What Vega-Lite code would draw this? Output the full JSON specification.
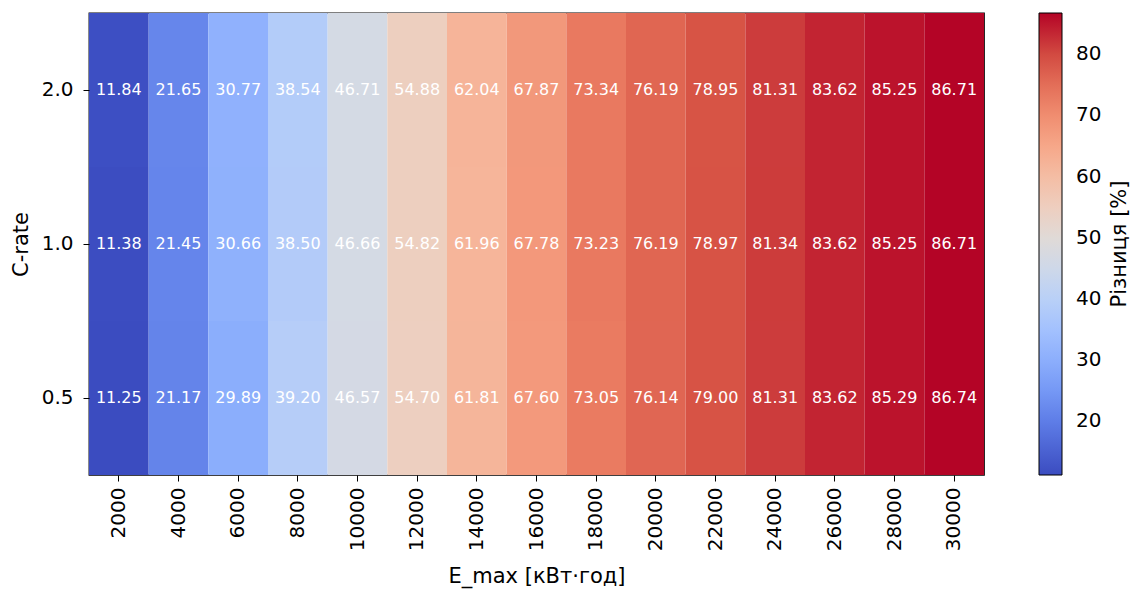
{
  "$schema": "https://vega.github.io/schema/vega-lite/v6.json",
  "autosize": {"type": "none"},
  "width": 895,
  "height": 462,
  "padding": {"left": 89, "top": 13, "right": 153, "bottom": 115},
  "background": "white",
  "config": {
    "font": "DejaVu Sans",
    "view": {"stroke": "black", "strokeWidth": 1.3},
    "axis": {
      "labelFont": "DejaVu Sans",
      "titleFont": "DejaVu Sans",
      "labelFontSize": 20,
      "titleFontSize": 21,
      "labelColor": "black",
      "titleColor": "black",
      "titleFontWeight": "normal",
      "tickColor": "black",
      "tickSize": 6,
      "domain": false,
      "grid": false
    },
    "legend": {
      "labelFont": "DejaVu Sans",
      "titleFont": "DejaVu Sans",
      "labelFontSize": 20,
      "titleFontSize": 21,
      "labelColor": "black",
      "titleColor": "black",
      "titleFontWeight": "normal"
    }
  },
  "data": {
    "values": [
      {"E": 2000, "C": "2.0", "v": 11.84}, {"E": 4000, "C": "2.0", "v": 21.65}, {"E": 6000, "C": "2.0", "v": 30.77},
      {"E": 8000, "C": "2.0", "v": 38.54}, {"E": 10000, "C": "2.0", "v": 46.71}, {"E": 12000, "C": "2.0", "v": 54.88},
      {"E": 14000, "C": "2.0", "v": 62.04}, {"E": 16000, "C": "2.0", "v": 67.87}, {"E": 18000, "C": "2.0", "v": 73.34},
      {"E": 20000, "C": "2.0", "v": 76.19}, {"E": 22000, "C": "2.0", "v": 78.95}, {"E": 24000, "C": "2.0", "v": 81.31},
      {"E": 26000, "C": "2.0", "v": 83.62}, {"E": 28000, "C": "2.0", "v": 85.25}, {"E": 30000, "C": "2.0", "v": 86.71},
      {"E": 2000, "C": "1.0", "v": 11.38}, {"E": 4000, "C": "1.0", "v": 21.45}, {"E": 6000, "C": "1.0", "v": 30.66},
      {"E": 8000, "C": "1.0", "v": 38.50}, {"E": 10000, "C": "1.0", "v": 46.66}, {"E": 12000, "C": "1.0", "v": 54.82},
      {"E": 14000, "C": "1.0", "v": 61.96}, {"E": 16000, "C": "1.0", "v": 67.78}, {"E": 18000, "C": "1.0", "v": 73.23},
      {"E": 20000, "C": "1.0", "v": 76.19}, {"E": 22000, "C": "1.0", "v": 78.97}, {"E": 24000, "C": "1.0", "v": 81.34},
      {"E": 26000, "C": "1.0", "v": 83.62}, {"E": 28000, "C": "1.0", "v": 85.25}, {"E": 30000, "C": "1.0", "v": 86.71},
      {"E": 2000, "C": "0.5", "v": 11.25}, {"E": 4000, "C": "0.5", "v": 21.17}, {"E": 6000, "C": "0.5", "v": 29.89},
      {"E": 8000, "C": "0.5", "v": 39.20}, {"E": 10000, "C": "0.5", "v": 46.57}, {"E": 12000, "C": "0.5", "v": 54.70},
      {"E": 14000, "C": "0.5", "v": 61.81}, {"E": 16000, "C": "0.5", "v": 67.60}, {"E": 18000, "C": "0.5", "v": 73.05},
      {"E": 20000, "C": "0.5", "v": 76.14}, {"E": 22000, "C": "0.5", "v": 79.00}, {"E": 24000, "C": "0.5", "v": 81.31},
      {"E": 26000, "C": "0.5", "v": 83.62}, {"E": 28000, "C": "0.5", "v": 85.29}, {"E": 30000, "C": "0.5", "v": 86.74}
    ]
  },
  "encoding": {
    "x": {
      "field": "E",
      "type": "ordinal",
      "scale": {"paddingInner": 0, "paddingOuter": 0},
      "axis": {"title": "E_max [кВт·год]", "labelAngle": 270, "labelPadding": 6, "titlePadding": 15}
    },
    "y": {
      "field": "C",
      "type": "ordinal",
      "sort": ["2.0", "1.0", "0.5"],
      "scale": {"paddingInner": 0, "paddingOuter": 0},
      "axis": {"title": "C-rate", "labelAngle": 0, "labelPadding": 10, "titlePadding": 10}
    }
  },
  "layer": [
    {
      "mark": {"type": "rect"},
      "encoding": {
        "color": {
          "field": "v",
          "type": "quantitative",
          "scale": {
            "domain": [11.25, 18.799, 26.348, 33.897, 41.446, 48.995, 56.544, 64.093, 71.642, 79.191, 86.74],
            "range": ["#3b4cc0", "#5977e3", "#7b9ff9", "#9ebeff", "#c0d4f5", "#dddcdc", "#f2cbb7", "#f7ac8e", "#ee8468", "#d65244", "#b40426"],
            "interpolate": "rgb"
          },
          "legend": {
            "title": "Різниця [%]",
            "type": "gradient",
            "direction": "vertical",
            "orient": "none",
            "legendX": 950,
            "legendY": 0,
            "gradientLength": 462,
            "gradientThickness": 23,
            "gradientStrokeColor": "black",
            "gradientStrokeWidth": 1,
            "values": [20, 30, 40, 50, 60, 70, 80],
            "labelOffset": 14,
            "titleOrient": "right",
            "titleAnchor": "middle",
            "titlePadding": 8,
            "encode": {
              "title": {
                "update": {
                  "angle": {"value": 270},
                  "baseline": {"value": "top"}
                }
              }
            }
          }
        }
      }
    },
    {
      "mark": {"type": "text", "color": "white", "fontSize": 16, "font": "DejaVu Sans"},
      "encoding": {
        "text": {"field": "v", "type": "quantitative", "format": ".2f"}
      }
    }
  ]
}
